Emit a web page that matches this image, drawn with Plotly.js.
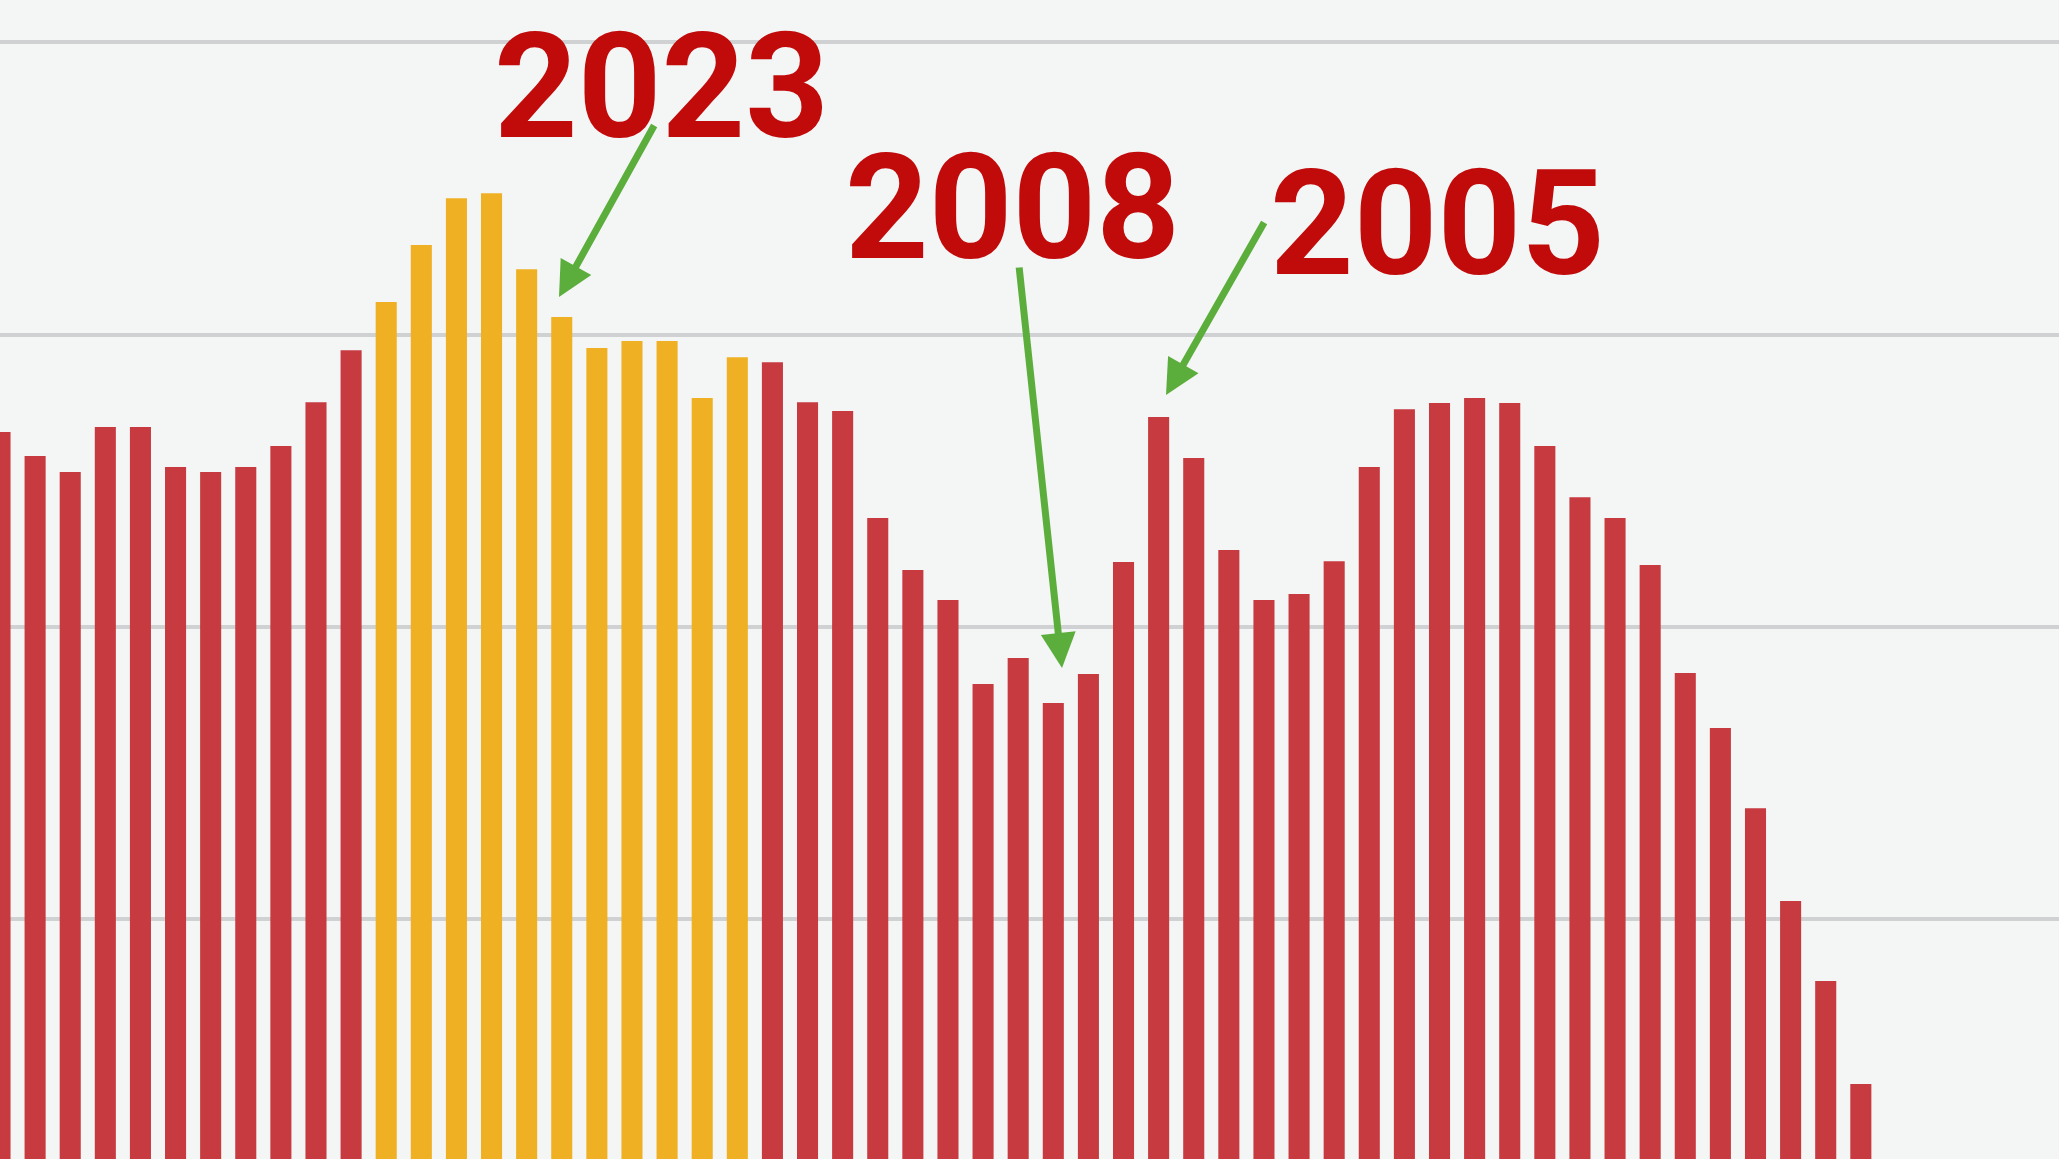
<!DOCTYPE html>
<html>
<head>
<meta charset="utf-8">
<script src="https://cdn.plot.ly/plotly-3.0.1.min.js"></script>
<style>
  html, body { margin: 0; padding: 0; background: #f4f5f5; }
  #chart { width: 2059px; height: 1159px; }
</style>
</head>
<body>
<div id="chart"></div>
<script>
// Bar labels (the cropped chart shows no axis labels; bars are numbered left to right)
const categories = ["1","2","3","4","5","6","7","8","9","10","11","12","13","14","15","16","17","18",
  "19","20","21","22","23","24","25","26","27","28","29","30","31","32","33","34","35","36",
  "37","38","39","40","41","42","43","44","45","46","47","48","49","50","51","52","53","54"];

// Bar heights (gridlines at 100, 200, 300, 400)
const values = [266.7, 258.5, 253.0, 268.4, 268.4, 254.7, 253.0, 254.7, 261.9, 276.9,
  294.7, 311.2, 330.7, 346.7, 348.4, 322.4, 306.0, 295.4, 297.8, 297.8,
  278.3, 292.3, 290.6, 276.9, 273.9, 237.3, 219.5, 209.2, 180.5, 189.4,
  174.0, 183.9, 222.2, 271.8, 257.8, 226.3, 209.2, 211.3, 222.5, 254.7,
  274.5, 276.6, 278.3, 276.6, 261.9, 244.4, 237.3, 221.2, 184.2, 165.4,
  138.0, 106.2, 78.9, 43.6];

// Bars drawn in yellow
const highlighted = ["12","13","14","15","16","17","18","19","20","21","22"];

// Label texts
const labelTexts = ["2023", "2008", "2005"];

const gridTicks = [100, 200, 300, 400];

const RED = "#c63a40", YELLOW = "#f0b023";
const W = 2059, H = 1159;

const xs = categories.map((c, i) => i);
const colors = categories.map(c => highlighted.includes(c) ? YELLOW : RED);

const trace = {
  type: "bar",
  x: xs,
  y: values,
  width: 0.6,
  marker: { color: colors, line: { width: 0 } },
  hoverinfo: "skip"
};

// label centres (pixels) and arrow tail/tip positions (pixels)
const labelPos = [[661, 88], [1012, 208], [1437, 224]];
const arrowTail = [[655, 124], [1019, 266], [1265, 221]];
const arrowTip = [[559, 297], [1062, 668], [1166, 395]];

const annotations = [];
labelTexts.forEach((t, i) => {
  annotations.push({
    xref: "paper", yref: "paper",
    x: labelPos[i][0] / W, y: 1 - labelPos[i][1] / H,
    xanchor: "center", yanchor: "middle",
    text: t,
    showarrow: false,
    font: { family: "Roboto, Liberation Sans, Arial, sans-serif", size: 146, weight: 700, color: "#c10b0b" }
  });
  annotations.push({
    xref: "paper", yref: "paper",
    x: arrowTip[i][0] / W, y: 1 - arrowTip[i][1] / H,
    ax: arrowTail[i][0] - arrowTip[i][0],
    ay: arrowTail[i][1] - arrowTip[i][1],
    text: "",
    showarrow: true,
    arrowhead: 2,
    arrowsize: 1.0,
    arrowwidth: 7,
    arrowcolor: "#5cae3c",
    standoff: 0
  });
});

const layout = {
  width: W, height: H,
  margin: { l: 0, r: 0, t: 0, b: 0, pad: 0 },
  paper_bgcolor: "#f4f5f5",
  plot_bgcolor: "#f4f5f5",
  showlegend: false,
  xaxis: {
    type: "linear",
    range: [0, W / 35.11],
    showgrid: false, zeroline: false, showticklabels: false, ticks: "",
    fixedrange: true
  },
  yaxis: {
    range: [17.96, 414.5],
    tickvals: gridTicks,
    showgrid: true, gridcolor: "#cfd1d2", gridwidth: 4,
    zeroline: false, showticklabels: false, ticks: "",
    fixedrange: true
  },
  annotations: annotations
};

Plotly.newPlot("chart", [trace], layout, { displayModeBar: false, staticPlot: true });
</script>
</body>
</html>
